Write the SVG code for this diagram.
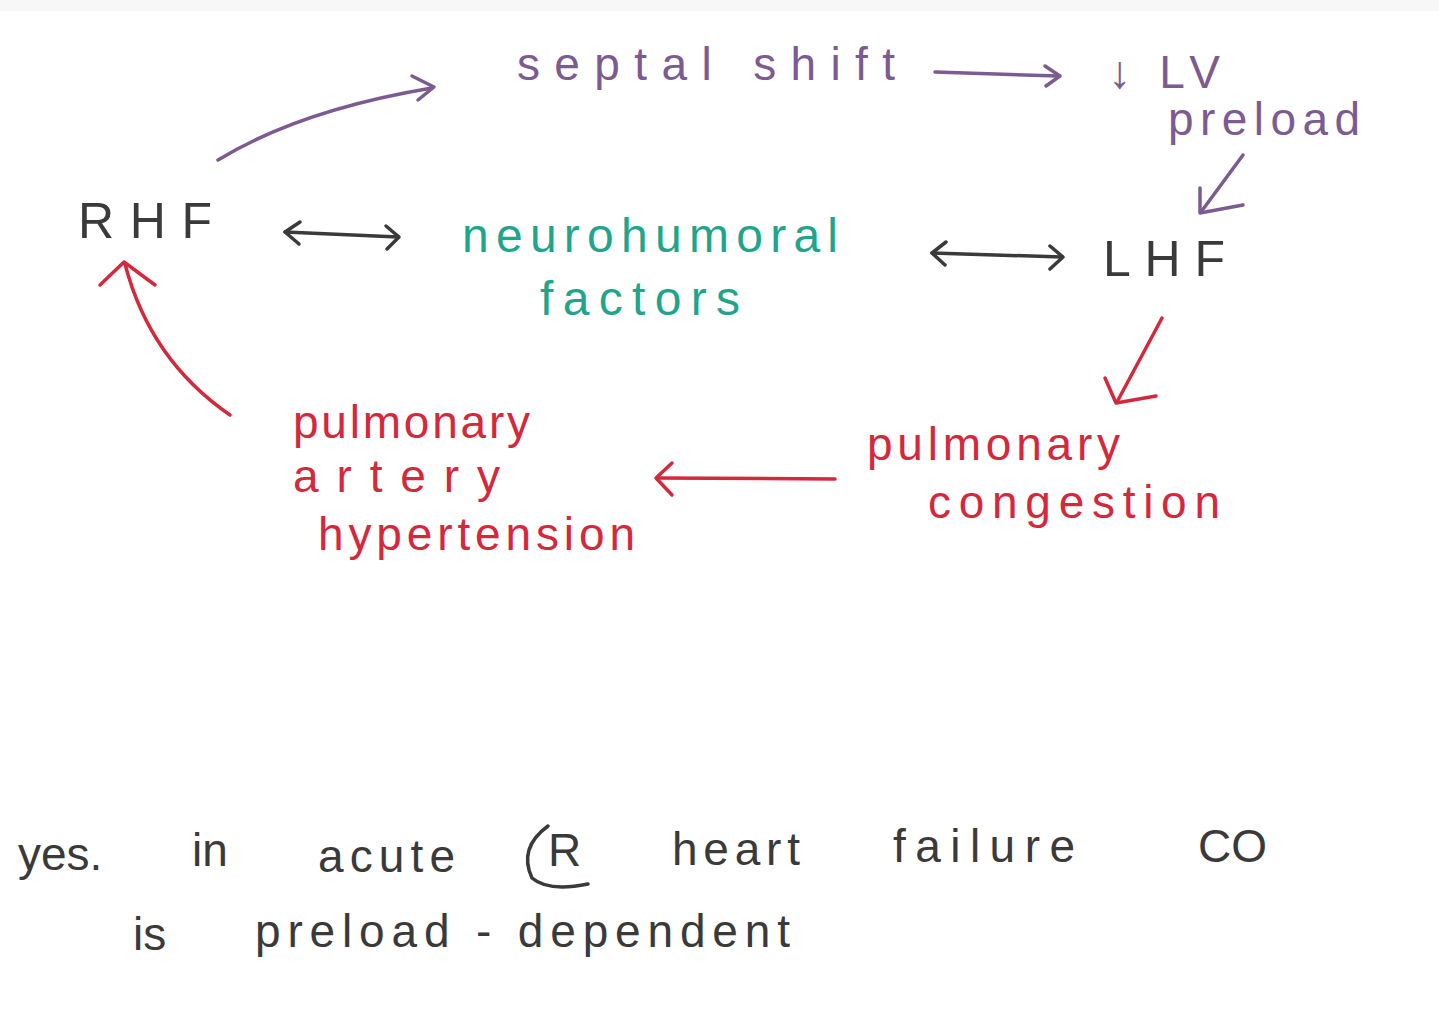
<svg xmlns="http://www.w3.org/2000/svg" width="1439" height="1019" viewBox="0 0 1439 1019">
<style>
text{font-family:"Liberation Sans","DejaVu Sans",sans-serif;}
.pu{fill:#7b5b91;font-size:46px;}
.te{fill:#1fa58c;font-size:48px;}
.re{fill:#d4283c;font-size:46px;}
.dk{fill:#3a3a3a;font-size:50px;}
.bk{fill:#3a3a3a;font-size:46px;}
.lp{stroke:#7b5b91;stroke-width:3.5;fill:none;stroke-linecap:round;stroke-linejoin:round;}
.ld{stroke:#3a3a3a;stroke-width:3.5;fill:none;stroke-linecap:round;stroke-linejoin:round;}
.lr{stroke:#d4283c;stroke-width:3.5;fill:none;stroke-linecap:round;stroke-linejoin:round;}
</style>
<rect width="1439" height="1019" fill="#ffffff"/>
<rect width="1439" height="11" fill="#f7f7f7"/>
<g id="connectors">
<path class="lp" d="M218 160 Q300 110 432 88"/>
<path class="lp" d="M412 76 L434 87 L418 100"/>
<path class="lp" d="M935 72 L1058 76"/>
<path class="lp" d="M1045 66 L1060 76 L1046 86"/>
<path class="lp" d="M1243 155 L1201 212"/>
<path class="lp" d="M1200 188 L1200 213 L1243 205"/>
<path class="ld" d="M285 232 L398 237"/>
<path class="ld" d="M300 222 L285 232 L299 244"/>
<path class="ld" d="M386 226 L399 237 L387 249"/>
<path class="ld" d="M932 253 L1062 257"/>
<path class="ld" d="M946 242 L932 253 L945 265"/>
<path class="ld" d="M1050 246 L1063 257 L1050 269"/>
<path class="lr" d="M1162 318 L1117 402"/>
<path class="lr" d="M1105 378 L1116 403 L1156 396"/>
<path class="lr" d="M835 479 L657 478"/>
<path class="lr" d="M672 463 L656 478 L672 495"/>
<path class="lr" d="M230 415 Q150 360 125 264"/>
<path class="lr" d="M100 285 L124 262 L155 285"/>
</g>
<g id="septal-shift"><text class="pu" x="517" y="80" textLength="378" lengthAdjust="spacing">septal shift</text></g>
<g id="lv-preload">
<text class="pu" x="1108" y="88" font-size="36" textLength="112" lengthAdjust="spacing">↓ LV</text>
<text class="pu" x="1168" y="135" textLength="192" lengthAdjust="spacing">preload</text>
</g>
<g id="rhf"><text class="dk" x="78" y="238" textLength="134" lengthAdjust="spacing">RHF</text></g>
<g id="neurohumoral-factors">
<text class="te" x="462" y="252" textLength="376" lengthAdjust="spacing">neurohumoral</text>
<text class="te" x="540" y="315" textLength="200" lengthAdjust="spacing">factors</text>
</g>
<g id="lhf"><text class="dk" x="1103" y="276" textLength="122" lengthAdjust="spacing">LHF</text></g>
<g id="pulmonary-congestion">
<text class="re" x="867" y="460" textLength="253" lengthAdjust="spacing">pulmonary</text>
<text class="re" x="928" y="518" textLength="292" lengthAdjust="spacing">congestion</text>
</g>
<g id="pulmonary-artery-hypertension">
<text class="re" x="293" y="438" font-size="40" textLength="237" lengthAdjust="spacing">pulmonary</text>
<text class="re" x="293" y="492" font-size="40" textLength="207" lengthAdjust="spacing">artery</text>
<text class="re" x="318" y="550" textLength="317" lengthAdjust="spacing">hypertension</text>
</g>
<g id="note">
<text class="bk" x="18" y="870">yes.</text>
<text class="bk" x="192" y="866">in</text>
<text class="bk" x="318" y="872" textLength="137" lengthAdjust="spacing">acute</text>
<path class="ld" d="M548 826 Q518 848 532 878 Q548 892 588 884"/>
<text class="bk" x="548" y="866" font-size="36">R</text>
<text class="bk" x="672" y="865" textLength="128" lengthAdjust="spacing">heart</text>
<text class="bk" x="893" y="862" textLength="182" lengthAdjust="spacing">failure</text>
<text class="bk" x="1198" y="862">CO</text>
<text class="bk" x="133" y="950">is</text>
<text class="bk" x="255" y="947" textLength="535" lengthAdjust="spacing">preload - dependent</text>
</g>
</svg>
